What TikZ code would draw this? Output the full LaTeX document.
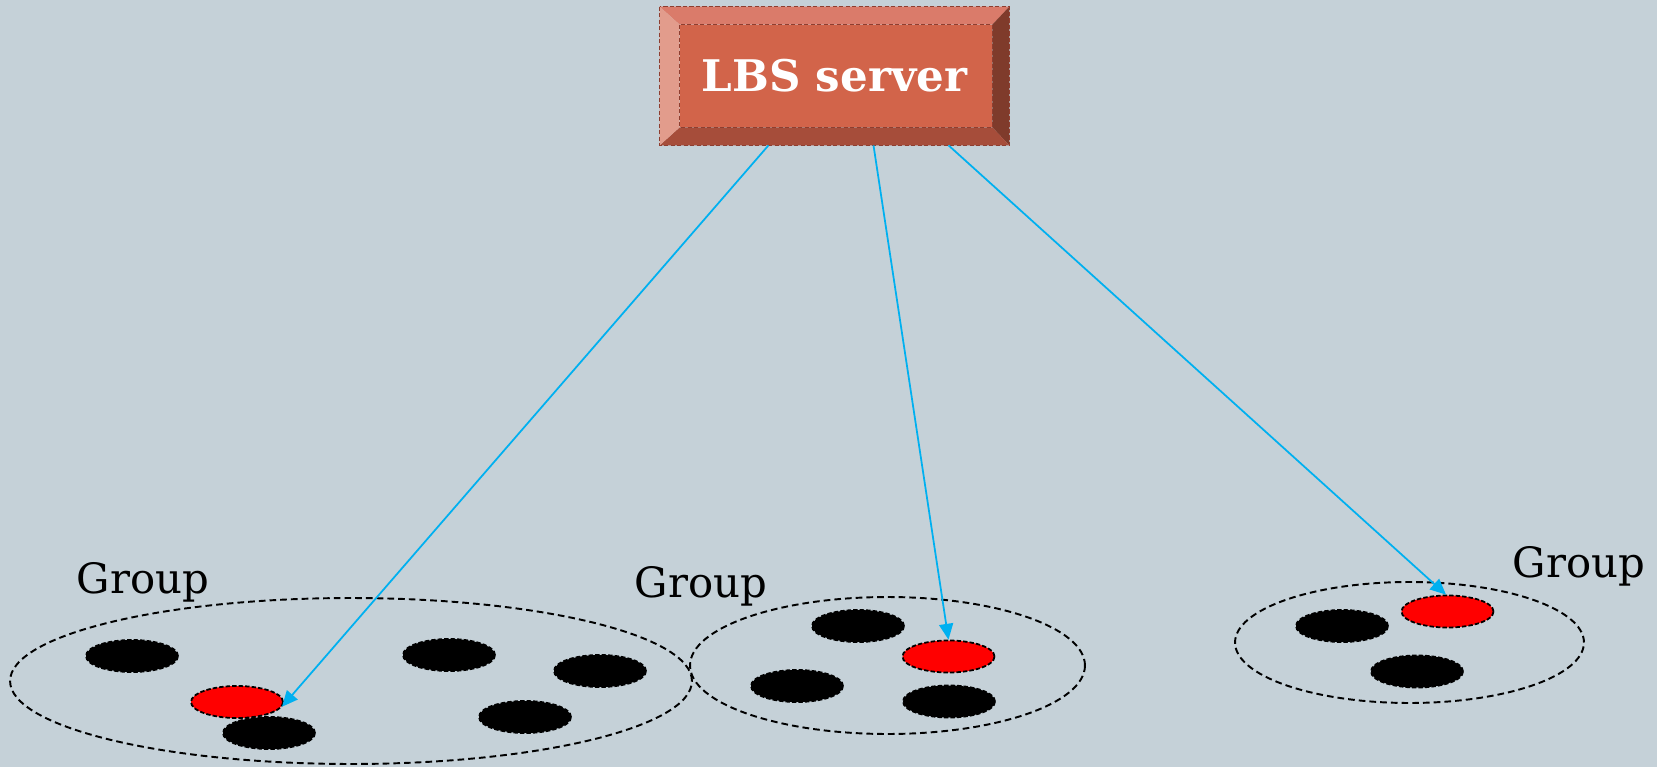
\documentclass[tikz,border=0pt]{standalone}
\usepackage{fontspec}
\setmainfont{DejaVu Serif}
\usepackage{tikz}
\usetikzlibrary{calc,arrows.meta,positioning,shapes.geometric}
\definecolor{bgc}{HTML}{C5D1D8}
\definecolor{facec}{HTML}{D2644A}
\definecolor{topc}{HTML}{DA7B6A}
\definecolor{leftc}{HTML}{E29C8C}
\definecolor{rightc}{HTML}{7F3B2B}
\definecolor{botc}{HTML}{A64D3A}
\definecolor{edgec}{HTML}{8E3E30}
\definecolor{arc}{HTML}{00B0F0}
\tikzset{
  ar/.style={-{Triangle[length=9pt,width=8pt]},line width=1pt,arc},
  grp/.style 2 args={ellipse,draw=black,line width=1.1pt,dash pattern=on 3.8pt off 2.3pt,minimum width=#1,minimum height=#2,inner sep=0pt},
  usr/.style={ellipse,draw=black,line width=1pt,dash pattern=on 2.5pt off 1.2pt,fill=black,minimum width=1.84cm,minimum height=0.64cm,inner sep=0pt},
  hst/.style={usr,fill=red},
  lbl/.style={font=\fontsize{23.8pt}{28pt}\selectfont,anchor=base,inner sep=0pt},
  edge/.style={edgec,line width=0.9pt,dash pattern=on 2.4pt off 1.3pt}
}
\begin{document}
\begin{tikzpicture}[x=0.02cm,y=0.02cm]
\fill[bgc] (0,0) rectangle (1657,-767);
% server box
\node[minimum width=6.98cm,minimum height=2.76cm,inner sep=0pt] (server) at (834.5,-76) {};
\coordinate (inw) at ($(server.north west)+(20,-18)$);
\coordinate (ine) at ($(server.north east)+(-17,-18)$);
\coordinate (ise) at ($(server.south east)+(-17,18)$);
\coordinate (isw) at ($(server.south west)+(20,18)$);
\fill[topc] (server.north west)--(server.north east)--(ine)--(inw)--cycle;
\fill[rightc] (server.north east)--(server.south east)--(ise)--(ine)--cycle;
\fill[botc] (server.south east)--(server.south west)--(isw)--(ise)--cycle;
\fill[leftc] (server.south west)--(server.north west)--(inw)--(isw)--cycle;
\fill[facec] (inw) rectangle (ise);
\draw[edge] (inw) rectangle (ise);
\draw[edge] (server.north west) rectangle (server.south east);
\node[font=\fontsize{24.8pt}{29pt}\selectfont\bfseries,text=white] (title) at (server) {LBS server};
% groups
\node[grp={13.64cm}{3.32cm}] (g1) at (351,-681) {};
\node[grp={7.9cm}{2.74cm}] (g2) at (887.5,-665.5) {};
\node[grp={6.98cm}{2.42cm}] (g3) at (1409.5,-642.5) {};
\node[lbl] (l1) at (143,-593) {Group};
\node[lbl] (l2) at (701,-597) {Group};
\node[lbl] (l3) at (1579,-577) {Group};
% users
\node[usr] (u11) at (132,-656) {};
\node[hst] (h1) at (237,-702) {};
\node[usr] (u12) at (269,-733) {};
\node[usr] (u13) at (449,-655) {};
\node[usr] (u14) at (600,-671) {};
\node[usr] (u15) at (525,-717) {};
\node[usr] (u21) at (858,-626) {};
\node[hst] (h2) at (948.5,-656.5) {};
\node[usr] (u22) at (797,-686) {};
\node[usr] (u23) at (949,-701.5) {};
\node[usr] (u31) at (1342,-626) {};
\node[hst] (h3) at (1447.5,-611.5) {};
\node[usr] (u32) at (1417,-671.5) {};
% queries
\draw[ar] ($(server.south)+(-66,0)$) -- (h1.-6);
\draw[ar] ($(server.south)+(39,0)$) -- (h2.north);
\draw[ar] ($(server.south)+(114,0)$) -- (h3.95);
\end{tikzpicture}
\end{document}
